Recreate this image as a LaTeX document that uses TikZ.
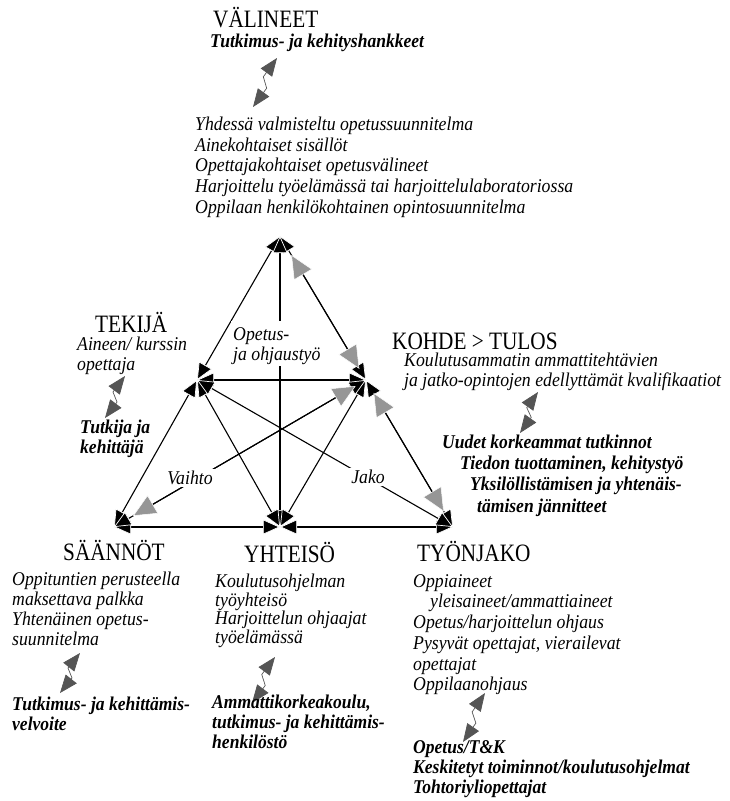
\documentclass[tikz,border=0pt]{standalone}
\usepackage{fontspec}
\setmainfont{Liberation Serif}
\newfontfamily\headfont{Liberation Serif}[FakeStretch=0.85]
\newfontfamily\itfont{Liberation Serif}[FakeStretch=0.91]
\newfontfamily\boldfont{Liberation Serif}[FakeStretch=0.9]
\usetikzlibrary{arrows.meta,calc}

\definecolor{headgray}{RGB}{150,150,150}
\definecolor{boltgray}{RGB}{85,85,85}

% strut that fixes the height of the first line of a text block
\newcommand\topstrut{\rule{0pt}{17pt}}

\tikzset{
  link/.style={draw=black, line width=1.1pt,
    >={Triangle[length=17pt,width=15pt,fill=black,color=white,line width=0.7pt]}, <->},
  graytips/.style={draw=black, line width=1.1pt,
    >={Triangle[length=23pt,width=21pt,fill=headgray,color=white,line width=0.5pt]}, <->},
  bolt/.style={draw=boltgray, line width=0.7pt,
    >={Triangle[length=18pt,width=14pt,fill=boltgray,color=boltgray]}, <->},
  heading/.style={anchor=base west, inner sep=0pt, font={\headfont\fontsize{25}{28}\selectfont}},
  itblock/.style={anchor=north west, inner sep=0pt, align=left,
    font={\itfont\fontsize{19.5}{#1}\selectfont\itshape}},
  itblock/.default=20.5,
  biblock/.style={anchor=north west, inner sep=0pt, align=left,
    font={\boldfont\fontsize{19.5}{#1}\selectfont\bfseries\itshape}},
  biblock/.default=20,
  edgelabel/.style={fill=white, inner sep=2pt, font={\itfont\fontsize{19.5}{20}\selectfont\itshape}},
}

% zig-zag double arrow between two named points
\newcommand\boltarrow[2]{%
  \draw[bolt] (#1) -- ($(#1)!0.42!(#2)!-4pt!90:(#2)$)
                   -- ($(#1)!0.58!(#2)!4pt!90:(#2)$) -- (#2);}

\begin{document}
\begin{tikzpicture}[x=1pt,y=-1pt]
\useasboundingbox (0,0) rectangle (729,801);
\fill[white] (0,0) rectangle (729,801);

% corners and edge midpoints of the activity triangle
\coordinate (T)  at (280,236);
\coordinate (TK) at (197,380);
\coordinate (KO) at (366,380);
\coordinate (SA) at (114,527);
\coordinate (YH) at (280,527);
\coordinate (TY) at (453,527);

% outer triangle
\draw[link] (T) -- (TK);
\draw[link] (TK) -- (SA);
\draw[link] (T) -- (KO);
\draw[link] (KO) -- (TY);
\draw[link] (SA) -- (YH);
\draw[link] (YH) -- (TY);
% inner connections
\draw[link] (T) -- (YH);
\draw[link] (TK) -- (KO);
\draw[link] (TK) -- (YH);
\draw[link] (KO) -- (YH);
\draw[link] (TK) -- (TY);
\draw[link] (KO) -- (SA);
% grey heads of the tension lines
\draw[graytips, shorten <=22pt, shorten >=13pt] (T) -- (KO);
\draw[graytips, shorten <=15pt, shorten >=18pt] (KO) -- (TY);
\draw[graytips, shorten <=12pt, shorten >=22pt] (KO) -- (SA);

% labels on the lines
\node[edgelabel, anchor=north west, align=left] (opetus) at (231,321)
  {\topstrut Opetus-\\ja ohjaustyö};
\node[edgelabel] (vaihto) at (190,478) {Vaihto};
\node[edgelabel] (jako) at (368,477) {Jako};

% VÄLINEET
\node[heading] (valineet) at (213,27) {VÄLINEET};
\node[anchor=base west, inner sep=0pt, font={\boldfont\fontsize{19.5}{20}\selectfont\bfseries\itshape}]
  (valineetrd) at (210,47) {Tutkimus- ja kehityshankkeet};
\coordinate (b1a) at (277,58);
\coordinate (b1b) at (253,107);
\boltarrow{b1a}{b1b}
\node[itblock=20.8] (valineettxt) at (195,113) {\topstrut Yhdessä valmisteltu opetussuunnitelma\\
  Ainekohtaiset sisällöt\\Opettajakohtaiset opetusvälineet\\
  Harjoittelu työelämässä tai harjoittelulaboratoriossa\\
  Oppilaan henkilökohtainen opintosuunnitelma};

% TEKIJÄ
\node[heading] (tekija) at (95,332) {TEKIJÄ};
\node[itblock=20] (tekijatxt) at (77,333) {\topstrut Aineen/ kurssin\\opettaja};
\coordinate (b2a) at (125,376);
\coordinate (b2b) at (105,418);
\boltarrow{b2a}{b2b}
\node[biblock=20] (tekijard) at (80,416) {\topstrut Tutkija ja\\kehittäjä};

% KOHDE > TULOS
\node[heading] (kohde) at (392,349) {KOHDE > TULOS};
\node[itblock=20] (kohdetxt) at (404,349) {\topstrut Koulutusammatin ammattitehtävien\\
  ja jatko-opintojen edellyttämät kvalifikaatiot};
\coordinate (b3a) at (538,392);
\coordinate (b3b) at (520,433);
\boltarrow{b3a}{b3b}
\node[biblock=21.3] (kohderd) at (442,431) {\topstrut Uudet korkeammat tutkinnot\\
  \hspace*{18pt}Tiedon tuottaminen, kehitystyö\\
  \hspace*{28pt}Yksilöllistämisen ja yhtenäis-\\
  \hspace*{35pt}tämisen jännitteet};

% SÄÄNNÖT
\node[heading] (saannot) at (63,560) {SÄÄNNÖT};
\node[itblock=20] (saannottxt) at (12,568) {\topstrut Oppituntien perusteella\\
  maksettava palkka\\Yhtenäinen opetus-\\suunnitelma};
\coordinate (b4a) at (80,653);
\coordinate (b4b) at (60,693);
\boltarrow{b4a}{b4b}
\node[biblock=20] (saannotrd) at (12,693) {\topstrut Tutkimus- ja kehittämis-\\velvoite};

% YHTEISÖ
\node[heading] (yhteiso) at (244,562) {YHTEISÖ};
\node[itblock=18.8] (yhteisotxt) at (215,570) {\topstrut Koulutusohjelman\\työyhteisö\\
  Harjoittelun ohjaajat\\työelämässä};
\coordinate (b5a) at (275,657);
\coordinate (b5b) at (252,703);
\boltarrow{b5a}{b5b}
\node[biblock=20] (yhteisord) at (212,691) {\topstrut Ammattikorkeakoulu,\\
  tutkimus- ja kehittämis-\\henkilöstö};

% TYÖNJAKO
\node[heading] (tyonjako) at (417,561) {TYÖNJAKO};
\node[itblock=20.7] (tyonjakotxt) at (413,570) {\topstrut Oppiaineet\\
  \hspace*{17pt}yleisaineet/ammattiaineet\\Opetus/harjoittelun ohjaus\\
  Pysyvät opettajat, vierailevat\\opettajat\\Oppilaanohjaus};
\coordinate (b6a) at (485,693);
\coordinate (b6b) at (463,742);
\boltarrow{b6a}{b6b}
\node[biblock=20] (tyonjakord) at (413,736) {\topstrut Opetus/T\&K\\
  Keskitetyt toiminnot/koulutusohjelmat\\Tohtoriyliopettajat};
\end{tikzpicture}
\end{document}
